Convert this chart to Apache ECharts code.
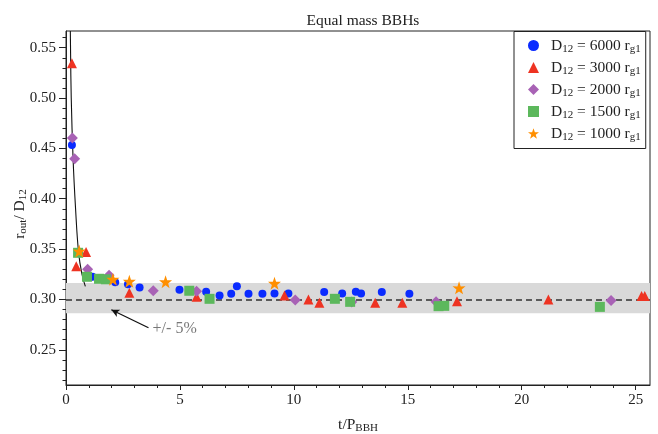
<!DOCTYPE html>
<html>
<head>
<meta charset="utf-8">
<script src="https://cdn.jsdelivr.net/npm/echarts@6/dist/echarts.min.js"></script>
<style>
  html, body { margin: 0; padding: 0; background: #fff; }
  #chart { width: 658px; height: 434px; }
</style>
</head>
<body>
<div id="chart"></div>
<script>
// Separation ratio r_out / D12 versus time in binary periods, equal-mass BBHs.
// Each run: [t / P_BBH, r_out / D12]
const runD6000 = [
  [0.26, 0.4533], [1.07, 0.3225], [1.16, 0.3225], [2.16, 0.3170], [2.72, 0.3150],
  [3.23, 0.3118], [4.98, 0.3095], [6.15, 0.3075], [6.74, 0.3040], [7.25, 0.3056],
  [7.50, 0.3130], [8.01, 0.3056], [8.62, 0.3056], [9.15, 0.3060], [9.76, 0.3060],
  [11.33, 0.3073], [12.12, 0.3060], [12.72, 0.3076], [12.95, 0.3060], [13.86, 0.3073],
  [15.07, 0.3056]
];
const runD3000 = [
  [0.26, 0.5345], [0.45, 0.3330], [0.88, 0.3470], [2.78, 0.3066], [5.73, 0.3026],
  [9.59, 0.3040], [10.64, 0.3000], [11.12, 0.2966], [13.57, 0.2966], [14.76, 0.2966],
  [17.16, 0.2983], [21.17, 0.3000], [25.26, 0.3033], [25.40, 0.3033]
];
const runD2000 = [
  [0.28, 0.4603], [0.38, 0.4398], [0.95, 0.3300], [1.89, 0.3240], [3.83, 0.3086],
  [5.73, 0.3080], [10.06, 0.2993], [12.54, 0.2975], [16.24, 0.2976], [23.92, 0.2990]
];
const runD1500 = [
  [0.53, 0.3463], [0.92, 0.3225], [1.45, 0.3205], [1.75, 0.3200], [5.41, 0.3086],
  [6.30, 0.3006], [11.80, 0.3006], [12.47, 0.2976], [16.35, 0.2933], [16.60, 0.2936],
  [23.43, 0.2926]
];
const runD1000 = [
  [0.58, 0.3480], [2.06, 0.3200], [2.78, 0.3180], [4.37, 0.3175], [9.15, 0.3160],
  [17.25, 0.3115]
];

// Early-time decay of the ratio (guide line)
const decayCurve = [
  [0.19, 0.5666], [0.23, 0.5000], [0.31, 0.4400], [0.42, 0.3900],
  [0.55, 0.3470], [0.70, 0.3250], [0.85, 0.3130]
];

// Asymptotic ratio and its tolerance band
const meanRatio = 0.3013;
const bandFraction = 0.05;
const bandLabel = '+/- 5%';
const arrowTail = [3.62, 0.2718];
const arrowHead = [1.99, 0.2897];
const bandLabelAt = [3.80, 0.2712];

const runNames = ['6000', '3000', '2000', '1500', '1000'];
const chartTitle = 'Equal mass BBHs';

// Axis extents and ticks
const xExtent = [0, 25.63];
const yExtent = [0.215, 0.5666];
const xMajorTicks = [0, 5, 10, 15, 20, 25];
const xMinorTicks = [1, 2, 3, 4, 6, 7, 8, 9, 11, 12, 13, 14, 16, 17, 18, 19, 21, 22, 23, 24];
const yMajorTicks = [0.25, 0.30, 0.35, 0.40, 0.45, 0.50, 0.55];
const yMinorTicks = [0.22, 0.23, 0.24, 0.26, 0.27, 0.28, 0.29, 0.31, 0.32, 0.33, 0.34,
  0.36, 0.37, 0.38, 0.39, 0.41, 0.42, 0.43, 0.44, 0.46, 0.47, 0.48, 0.49,
  0.51, 0.52, 0.53, 0.54, 0.56];

const SERIF = '"Liberation Serif", "DejaVu Serif", serif';
const STAR = 'path://M50,0 L61.8,35.1 L97.6,34.5 L69.1,56.7 L79.4,90.5 L50,70 L20.6,90.5 L30.9,56.7 L2.4,34.5 L38.2,35.1 Z';

const runs = [runD6000, runD3000, runD2000, runD1500, runD1000];
const looks = [
  { symbol: 'circle',   size: 8,  color: '#0a2bff' },
  { symbol: 'triangle', size: 10, color: '#ee3322' },
  { symbol: 'diamond',  size: 11, color: '#a862b5' },
  { symbol: 'rect',     size: 10, color: '#5cb85c' },
  { symbol: STAR,       size: 13, color: '#ff8f00' }
];
const seriesLabel = n => 'D12 = ' + n + ' rg1';

const chart = echarts.init(document.getElementById('chart'), null, { renderer: 'canvas' });

const scatterSeries = runs.map((data, i) => ({
  name: seriesLabel(runNames[i]),
  type: 'scatter',
  data: data,
  symbol: looks[i].symbol,
  symbolSize: looks[i].size,
  itemStyle: { color: looks[i].color, opacity: 1 },
  z: 5 + i,
  silent: true
}));

const labelText = { color: '#222', fontFamily: SERIF };
const subRich = {
  n: { fontFamily: SERIF, fontSize: 15.5, lineHeight: 18, color: '#222' },
  s: { fontFamily: SERIF, fontSize: 11, lineHeight: 10, verticalAlign: 'bottom', color: '#222' }
};

chart.setOption({
  animation: false,
  backgroundColor: '#fff',
  title: {
    text: chartTitle,
    left: 358,
    top: 8,
    textAlign: 'center',
    textStyle: { fontFamily: SERIF, fontSize: 15.5, fontWeight: 'normal', color: '#222' }
  },
  grid: {
    left: 66, right: 8, top: 31, bottom: 49,
    containLabel: false,
    outerBoundsMode: 'none',
    show: true, borderColor: '#222', borderWidth: 1, backgroundColor: 'transparent'
  },
  legend: {
    data: runNames.map((n, i) => ({
      name: seriesLabel(n),
      icon: looks[i].symbol
    })),
    orient: 'vertical',
    left: 514,
    top: 31.5,
    padding: [6, 5, 6, 14],
    itemWidth: 11,
    itemHeight: 11,
    itemGap: 5,
    backgroundColor: '#fff',
    borderColor: '#222',
    borderWidth: 1,
    borderRadius: 0,
    selectedMode: false,
    formatter: name => {
      const n = name.split(' ')[2];
      return '{d|D}{s|12}{n| = ' + n + ' r}{s|g1}';
    },
    textStyle: {
      rich: {
        d: { fontFamily: SERIF, fontSize: 15.5, lineHeight: 18, color: '#222', padding: [0, 0, 0, 7] },
        n: subRich.n,
        s: subRich.s
      }
    }
  },
  xAxis: [
    {
      type: 'value', min: xExtent[0], max: xExtent[1],
      axisLine: { show: true, lineStyle: { color: '#222', width: 1 } },
      axisTick: { show: true, customValues: xMajorTicks, length: 5, lineStyle: { color: '#222' } },
      axisLabel: { show: true, customValues: xMajorTicks, margin: 8, fontSize: 15, ...labelText },
      splitLine: { show: false },
      name: '{n|t/P}{s|BBH}',
      nameLocation: 'middle',
      nameGap: 31,
      nameMoveOverlap: false,
      nameTextStyle: { rich: subRich }
    },
    {
      type: 'value', min: xExtent[0], max: xExtent[1], position: 'bottom',
      axisLine: { show: false },
      axisTick: { show: true, customValues: xMinorTicks, length: 3, lineStyle: { color: '#222' } },
      axisLabel: { show: false },
      splitLine: { show: false }
    }
  ],
  yAxis: [
    {
      type: 'value', min: yExtent[0], max: yExtent[1],
      axisLine: { show: true, lineStyle: { color: '#222', width: 1 } },
      axisTick: { show: true, customValues: yMajorTicks, length: 7, lineStyle: { color: '#222' } },
      axisLabel: {
        show: true, customValues: yMajorTicks, margin: 10, fontSize: 15, ...labelText,
        formatter: v => v.toFixed(2)
      },
      splitLine: { show: false },
      name: '{n|r}{s|out}{n|/ D}{s|12}',
      nameLocation: 'middle',
      nameGap: 37,
      nameMoveOverlap: false,
      nameTextStyle: { rich: subRich, padding: [0, 12, 0, 0] }
    },
    {
      type: 'value', min: yExtent[0], max: yExtent[1], position: 'left',
      axisLine: { show: false },
      axisTick: { show: true, customValues: yMinorTicks, length: 3.5, lineStyle: { color: '#222' } },
      axisLabel: { show: false },
      splitLine: { show: false }
    }
  ],
  series: [
    {
      name: 'band',
      type: 'line',
      data: [],
      silent: true,
      z: 1,
      markArea: {
        silent: true,
        itemStyle: { color: '#d9d9d9' },
        data: [[{ yAxis: meanRatio * (1 - bandFraction) }, { yAxis: meanRatio * (1 + bandFraction) }]]
      },
      markLine: {
        silent: true,
        symbol: ['none', 'none'],
        label: { show: false },
        data: [
          {
            yAxis: meanRatio,
            lineStyle: { color: '#5a5a5a', width: 1.8, type: [6, 4] }
          },
          [
            { coord: arrowTail, symbol: 'none', lineStyle: { color: '#111', width: 1.2, type: 'solid' } },
            { coord: arrowHead, symbol: 'arrow', symbolSize: [6, 8] }
          ]
        ]
      }
    },
    {
      name: 'decay',
      type: 'line',
      data: decayCurve,
      smooth: 0.4,
      showSymbol: false,
      silent: true,
      z: 3,
      lineStyle: { color: '#111', width: 1.1 }
    },
    {
      name: 'bandNote',
      type: 'scatter',
      data: [bandLabelAt],
      symbolSize: 0,
      silent: true,
      z: 4,
      label: {
        show: true, position: 'right', distance: 0,
        formatter: bandLabel,
        fontFamily: SERIF, fontSize: 16, color: '#555'
      }
    },
    ...scatterSeries
  ]
});
</script>
</body>
</html>
